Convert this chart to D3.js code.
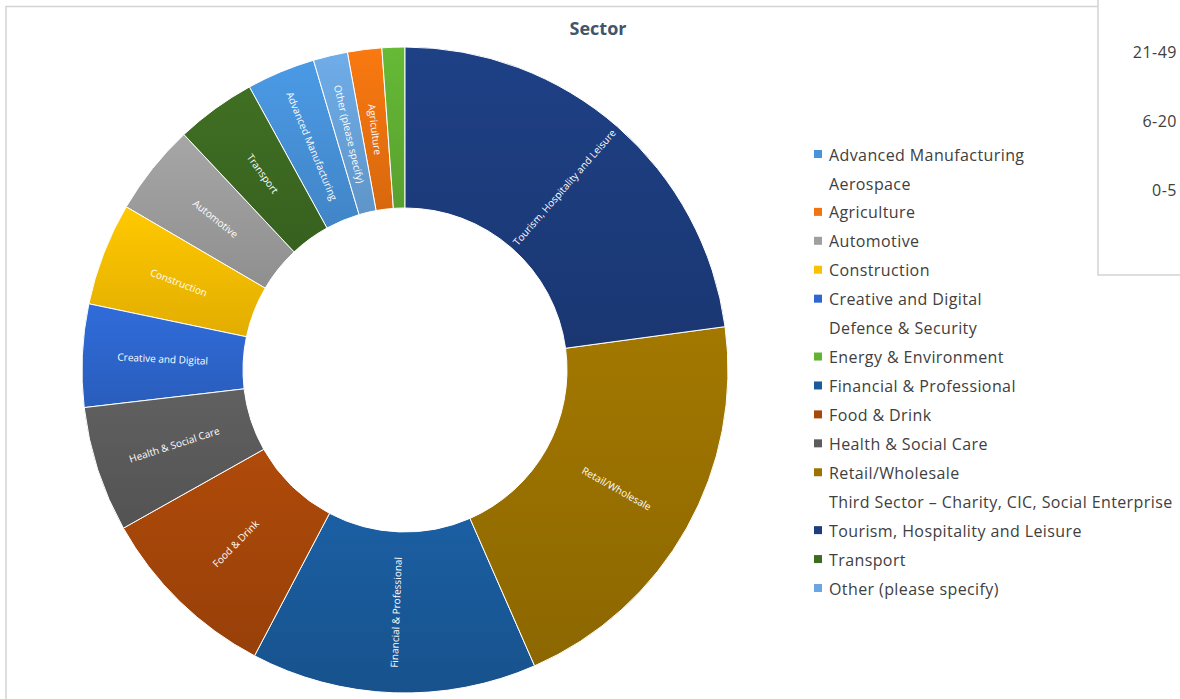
<!DOCTYPE html>
<html>
<head>
<meta charset="utf-8">
<script src="https://cdn.jsdelivr.net/npm/d3@7"></script>
<style>
  body { margin: 0; background: #fff; }
  svg { display: block; font-family: "Open Sans", "Noto Sans", sans-serif; }
</style>
</head>
<body>
<div id="chart"></div>
<script>
// data ---------------------------------------------------------------------------
const categories = [
  'Advanced Manufacturing', 'Aerospace', 'Agriculture', 'Automotive', 'Construction',
  'Creative and Digital', 'Defence & Security', 'Energy & Environment',
  'Financial & Professional', 'Food & Drink', 'Health & Social Care', 'Retail/Wholesale',
  'Third Sector – Charity, CIC, Social Enterprise', 'Tourism, Hospitality and Leisure',
  'Transport', 'Other (please specify)'
];
const values = [6, 0, 3, 8, 9, 9, 0, 2, 25, 16, 11, 36, 0, 40, 7, 3];
const colors = [
  '#4894dc', '#a5a5a5', '#f0740f', '#9f9f9f', '#fbc100', '#2e67d1', '#a5a5a5', '#62b234',
  '#1a5b9c', '#a8470a', '#5c5c5c', '#9c7300', '#a5a5a5', '#1d3d7f', '#3d6b22', '#6aa6df'
];
// clockwise order of the slices, starting at 12 o'clock
const sliceOrder = [
  'Tourism, Hospitality and Leisure', 'Retail/Wholesale', 'Financial & Professional',
  'Food & Drink', 'Health & Social Care', 'Creative and Digital', 'Construction',
  'Automotive', 'Transport', 'Advanced Manufacturing', 'Other (please specify)',
  'Agriculture', 'Energy & Environment'
];
// the neighbouring chart's category labels (partly visible top right)
const sizeBands = ['21-49', '6-20', '0-5'];

// layout -------------------------------------------------------------------------
const width = 1180, height = 699;
const cx = 405, cy = 370, outerR = 323, innerR = 162;

const svg = d3.select('#chart').append('svg')
  .attr('width', width)
  .attr('height', height);

const defs = svg.append('defs');

const rows = categories.map((c, i) => ({ name: c, value: values[i], color: colors[i] }));

// gradient per category (lighter at top, darker at bottom)
rows.forEach((d, i) => {
  const g = defs.append('linearGradient')
    .attr('id', 'grad' + i)
    .attr('x1', 0).attr('y1', 0).attr('x2', 0).attr('y2', 1);
  g.append('stop').attr('offset', '0%').attr('stop-color', d3.color(d.color).brighter(0.12));
  g.append('stop').attr('offset', '100%').attr('stop-color', d3.color(d.color).darker(0.3));
});

// frames -----------------------------------------------------------------------
svg.append('path')
  .attr('d', 'M6,' + height + ' V6.5 H1098')
  .attr('fill', 'none')
  .attr('stroke', '#d4d4d4')
  .attr('stroke-width', 1.5);
svg.append('path')
  .attr('d', 'M1098,0 V275 H' + width)
  .attr('fill', 'none')
  .attr('stroke', '#d4d4d4')
  .attr('stroke-width', 1.5);

// title --------------------------------------------------------------------------
svg.append('text')
  .attr('x', 598)
  .attr('y', 35)
  .attr('text-anchor', 'middle')
  .attr('font-size', '18px')
  .attr('font-weight', 'bold')
  .attr('fill', '#44546a')
  .text('Sector');

// doughnut ---------------------------------------------------------------------
const pie = d3.pie()
  .value(d => d.value)
  .sort((a, b) => sliceOrder.indexOf(a.name) - sliceOrder.indexOf(b.name));

const arcs = pie(rows.filter(d => d.value > 0));

const arc = d3.arc().innerRadius(innerR).outerRadius(outerR);

const g = svg.append('g').attr('transform', 'translate(' + cx + ',' + cy + ')');

g.selectAll('.slice')
  .data(arcs)
  .enter()
  .append('path')
  .attr('class', 'slice')
  .attr('d', arc)
  .attr('fill', d => 'url(#grad' + categories.indexOf(d.data.name) + ')')
  .attr('stroke', '#ffffff')
  .attr('stroke-width', 1);

// slice labels, running along the radius
const labelR = (innerR + outerR) / 2;
g.selectAll('.slice-label')
  .data(arcs.filter(d => d.endAngle - d.startAngle > 0.09))
  .enter()
  .append('text')
  .attr('class', 'slice-label')
  .attr('transform', d => {
    const a = (d.startAngle + d.endAngle) / 2;
    const x = Math.sin(a) * labelR;
    const y = -Math.cos(a) * labelR;
    const deg = a * 180 / Math.PI;
    const rot = deg > 180 ? deg - 270 : deg - 90;
    return 'translate(' + x + ',' + y + ') rotate(' + rot + ')';
  })
  .attr('text-anchor', 'middle')
  .attr('dy', '0.35em')
  .attr('font-size', '10px')
  .attr('fill', '#ffffff')
  .text(d => d.data.name);

// legend -------------------------------------------------------------------------
const legendY = d3.scalePoint().domain(categories).range([155, 589]);
const legend = svg.append('g').attr('class', 'legend');
const item = legend.selectAll('g')
  .data(rows)
  .enter()
  .append('g')
  .attr('transform', d => 'translate(0,' + legendY(d.name) + ')');
item.filter(d => d.value > 0)
  .append('rect')
  .attr('x', 814)
  .attr('y', -5)
  .attr('width', 8)
  .attr('height', 8)
  .attr('fill', d => d.color);
item.append('text')
  .attr('x', 829)
  .attr('dy', '0.35em')
  .attr('font-size', '16px')
  .attr('letter-spacing', '0.4px')
  .attr('fill', '#404040')
  .text(d => d.name);

// neighbouring chart's axis labels ----------------------------------------------
const bandY = d3.scalePoint().domain(sizeBands).range([52, 190]);
svg.append('g')
  .selectAll('text')
  .data(sizeBands)
  .enter()
  .append('text')
  .attr('x', 1177)
  .attr('y', d => bandY(d))
  .attr('dy', '0.35em')
  .attr('text-anchor', 'end')
  .attr('font-size', '16px')
  .attr('letter-spacing', '0.5px')
  .attr('fill', '#404040')
  .text(d => d);
</script>
</body>
</html>
